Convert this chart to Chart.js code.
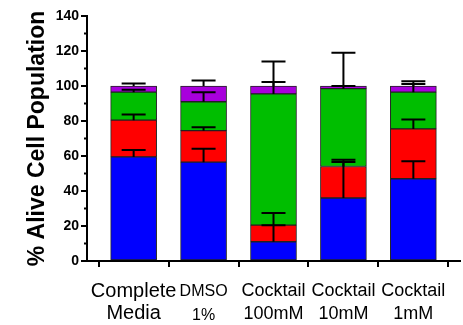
<!DOCTYPE html>
<html>
<head>
<meta charset="utf-8">
<script src="https://cdn.jsdelivr.net/npm/chart.js@4"></script>
<style>
  html, body { margin: 0; padding: 0; background: #fff; }
  #wrap { width: 463px; height: 325px; }
</style>
</head>
<body>
<div id="wrap"><canvas id="grafico"></canvas></div>
<script>
// categorias e valores
const categories = [['Complete', 'Media'], ['DMSO', '1%'], ['Cocktail', '100mM'], ['Cocktail', '10mM'], ['Cocktail', '1mM']];
const blueValues   = [59.5, 56.5, 11.0, 36.0, 47.0];
const redValues    = [21.0, 18.0, 9.5, 18.0, 28.5];
const greenValues  = [16.0, 16.5, 75.0, 44.5, 21.0];
const purpleValues = [3.5, 9.0, 4.5, 1.5, 3.5];
const blueErr   = [3.9, 7.6, 9.5, 20.6, 10.0];
const redErr    = [3.2, 1.9, 7.0, 3.8, 5.4];
const greenErr  = [1.3, 5.5, 6.8, 1.5, 4.6];
const purpleErr = [1.4, 3.1, 14.0, 19.0, 2.7];
const yTicks = [0, 20, 40, 60, 80, 100, 120, 140];

const FONT = "'Liberation Sans', Arial, Helvetica, sans-serif";
// tamanho da fonte e altura da linha de cada rotulo do eixo x
const labelSizes = [20, 16, 18, 18, 18];
const labelLines = [22, 23.5, 22.5, 22.5, 22.5];

const series = [
    { values: blueValues, err: blueErr, color: '#0000ff' },
    { values: redValues, err: redErr, color: '#ff0000' },
    { values: greenValues, err: greenErr, color: '#00be00' },
    { values: purpleValues, err: purpleErr, color: '#a800dc' },
];

// barras de erro (so para cima) + ticks menores do eixo y
const extras = {
    id: 'extras',
    afterDatasetsDraw(chart) {
        const ctx = chart.ctx;
        const y = chart.scales.y;
        ctx.save();
        ctx.strokeStyle = '#000';
        ctx.lineWidth = 2;
        series.forEach((s, d) => {
            const meta = chart.getDatasetMeta(d);
            meta.data.forEach((bar, i) => {
                let top = 0;
                for (let k = 0; k <= d; k++) top += series[k].values[i];
                const yEnd = y.getPixelForValue(top + s.err[i]);
                ctx.beginPath();
                ctx.moveTo(bar.x, bar.y);
                ctx.lineTo(bar.x, yEnd);
                ctx.moveTo(bar.x - 12, yEnd);
                ctx.lineTo(bar.x + 12, yEnd);
                ctx.stroke();
            });
        });
        // ticks menores
        const left = chart.chartArea.left;
        for (let v = 10; v < 140; v += 20) {
            const py = y.getPixelForValue(v);
            ctx.beginPath();
            ctx.moveTo(left - 3, py);
            ctx.lineTo(left, py);
            ctx.stroke();
        }
        ctx.restore();
    }
};

new Chart(document.getElementById('grafico'), {
    type: 'bar',
    data: {
        datasets: series.map(s => ({
            data: s.values.map((v, i) => ({ x: i, y: v })),
            backgroundColor: s.color,
            borderColor: '#222',
            borderWidth: 1,
            borderSkipped: false,
            barThickness: 46,
        }))
    },
    options: {
        responsive: true,
        maintainAspectRatio: false,
        animation: false,
        layout: { padding: { top: 16, right: 3, left: 0, bottom: 0 } },
        scales: {
            x: {
                type: 'linear',
                stacked: true,
                offset: false,
                min: -0.667,
                max: 4.667,
                afterBuildTicks: (scale) => {
                    scale.ticks = categories.map((c, i) => ({ value: i }));
                },
                afterFit: (scale) => { scale.height = 64; },
                grid: { drawOnChartArea: false, drawTicks: true, tickLength: 6, color: '#000', lineWidth: 2 },
                border: { display: true, color: '#000', width: 2 },
                ticks: {
                    color: '#000',
                    padding: 13,
                    maxRotation: 0,
                    minRotation: 0,
                    autoSkip: false,
                    callback: (value) => categories[value] || '',
                    font: (c) => ({
                        family: FONT,
                        size: labelSizes[c.index] || 18,
                        lineHeight: (labelLines[c.index] || 22) + 'px',
                    }),
                }
            },
            y: {
                stacked: true,
                min: 0,
                max: 140,
                afterBuildTicks: (scale) => {
                    scale.ticks = yTicks.map(v => ({ value: v }));
                },
                afterFit: (scale) => { scale.width = 87; },
                grid: { drawOnChartArea: false, drawTicks: true, tickLength: 6, color: '#000', lineWidth: 2 },
                border: { display: true, color: '#000', width: 2 },
                ticks: {
                    color: '#000',
                    padding: 2,
                    font: { family: FONT, size: 14, weight: 'bold' },
                },
                title: {
                    display: true,
                    text: '% Alive Cell Population',
                    color: '#000',
                    font: { family: FONT, size: 23, weight: 'bold' },
                    padding: { top: 24, bottom: 0 },
                }
            }
        },
        plugins: {
            legend: { display: false },
            tooltip: { enabled: false },
        }
    },
    plugins: [extras]
});
</script>
</body>
</html>
